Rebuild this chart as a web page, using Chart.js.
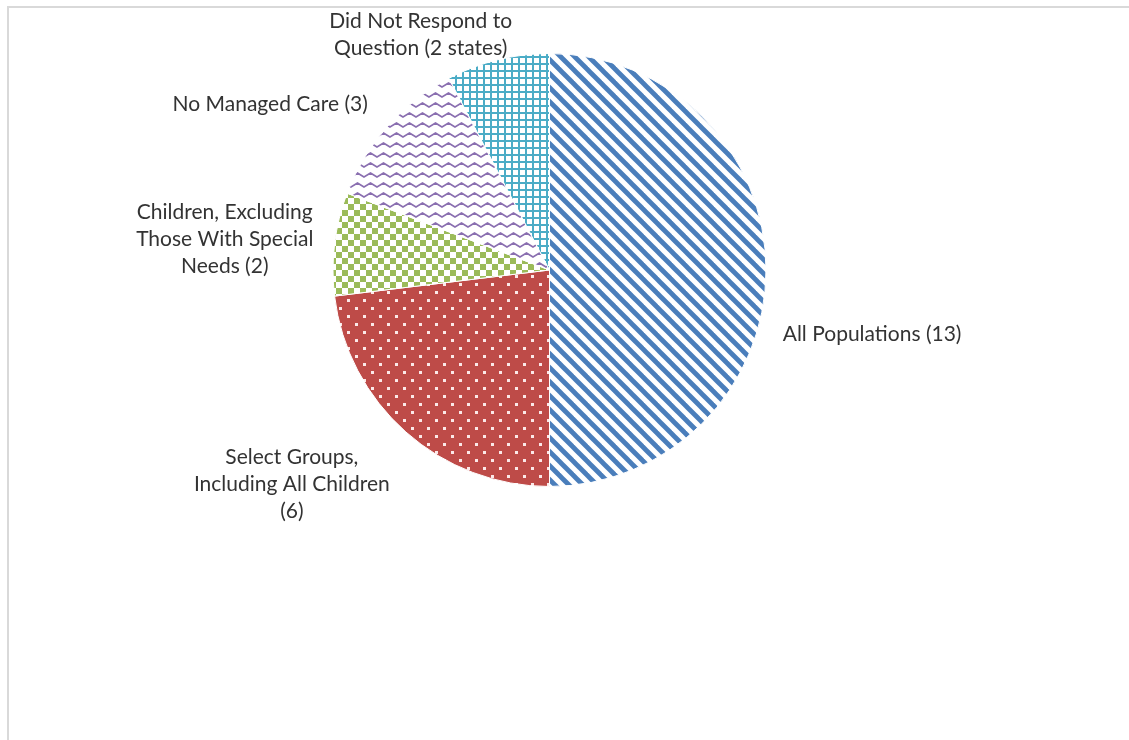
<!DOCTYPE html>
<html>
<head>
<meta charset="utf-8">
<script src="https://cdn.jsdelivr.net/npm/chart.js@4/dist/chart.umd.min.js"></script>
<style>
    html, body { margin: 0; padding: 0; background: #fff; overflow: hidden; }
    #frame {
        position: absolute; left: 7px; top: 6px;
        width: 1300px; height: 900px;
        border: 2px solid #d9d9d9;
    }
    #wrap { position: absolute; left: 0; top: 0; width: 1129px; height: 740px; }
</style>
</head>
<body>
<div id="frame"></div>
<div id="wrap"><canvas id="pie"></canvas></div>
<script>
// data
var categories = [
    ['All Populations (13)'],
    ['Select Groups,', 'Including All Children', '(6)'],
    ['Children, Excluding', 'Those With Special', 'Needs (2)'],
    ['No Managed Care (3)'],
    ['Did Not Respond to', 'Question (2 states)']
];
var stateCounts = [13, 6, 2, 3, 2];

// label placement, in units of the pie radius from its centre
var labelOffsets = [
    [1.49, 0.295],
    [-1.19, 0.99],
    [-1.50, -0.14],
    [-1.29, -0.765],
    [-0.595, -1.085]
];

// pattern fills
function makeTile(w, h, draw) {
    var c = document.createElement('canvas');
    c.width = w;
    c.height = h;
    var g = c.getContext('2d');
    draw(g, w, h);
    return document.createElement('canvas').getContext('2d').createPattern(c, 'repeat');
}

var stripes = makeTile(14, 14, function (g, s) {
    g.fillStyle = '#fff';
    g.fillRect(0, 0, s, s);
    g.strokeStyle = '#4a7ebb';
    g.lineWidth = 4.8;
    for (var k = -1; k <= 1; k++) {
        g.beginPath();
        g.moveTo(k * s - 2, -2);
        g.lineTo(k * s + s + 2, s + 2);
        g.stroke();
    }
});

var dots = makeTile(16, 16, function (g, s) {
    g.fillStyle = '#be4b48';
    g.fillRect(0, 0, s, s);
    g.fillStyle = '#fbe8e8';
    g.fillRect(3, 3, 3, 3);
    g.fillRect(11, 11, 3, 3);
});

var checker = makeTile(12, 12, function (g, s) {
    g.fillStyle = '#fff';
    g.fillRect(0, 0, s, s);
    g.fillStyle = '#9bbb59';
    g.fillRect(0, 0, 6, 6);
    g.fillRect(6, 6, 6, 6);
});

var zigzag = makeTile(13, 10, function (g, w, h) {
    g.fillStyle = '#fff';
    g.fillRect(0, 0, w, h);
    g.strokeStyle = '#8a6fb0';
    g.lineWidth = 1.7;
    g.beginPath();
    g.moveTo(-1, 7.3);
    g.lineTo(0, 7);
    g.lineTo(6.5, 3);
    g.lineTo(13, 7);
    g.lineTo(14, 7.6);
    g.stroke();
});

var grid = makeTile(7, 7, function (g, s) {
    g.fillStyle = '#fff';
    g.fillRect(0, 0, s, s);
    g.fillStyle = '#4bacc6';
    g.fillRect(0, 0, s, 2);
    g.fillRect(0, 0, 2, s);
});

var fills = [stripes, dots, checker, zigzag, grid];

// labels drawn next to each slice
var sliceLabels = {
    id: 'sliceLabels',
    afterDatasetsDraw: function (chart) {
        var ctx = chart.ctx;
        var meta = chart.getDatasetMeta(0);
        ctx.save();
        ctx.fillStyle = '#333333';
        ctx.font = '21px Lato, "Open Sans", sans-serif';
        ctx.textAlign = 'center';
        ctx.textBaseline = 'middle';
        var lineH = 27;
        meta.data.forEach(function (arc, i) {
            var r = arc.outerRadius;
            var cx = arc.x + labelOffsets[i][0] * r;
            var cy = arc.y + labelOffsets[i][1] * r;
            var lines = chart.data.labels[i];
            var y0 = cy - (lines.length - 1) * lineH / 2;
            for (var j = 0; j < lines.length; j++) {
                ctx.fillText(lines[j], cx, y0 + j * lineH);
            }
        });
        ctx.restore();
    }
};

var pieChart = new Chart(document.getElementById('pie'), {
    type: 'pie',
    data: {
        labels: categories,
        datasets: [{
            data: stateCounts,
            backgroundColor: fills,
            borderColor: '#ffffff',
            borderWidth: 1
        }]
    },
    options: {
        responsive: true,
        maintainAspectRatio: false,
        animation: false,
        layout: {
            padding: { left: 332, right: 362, top: 53, bottom: 253 }
        },
        plugins: {
            legend: { display: false },
            tooltip: { enabled: false }
        }
    },
    plugins: [sliceLabels]
});
</script>
</body>
</html>
